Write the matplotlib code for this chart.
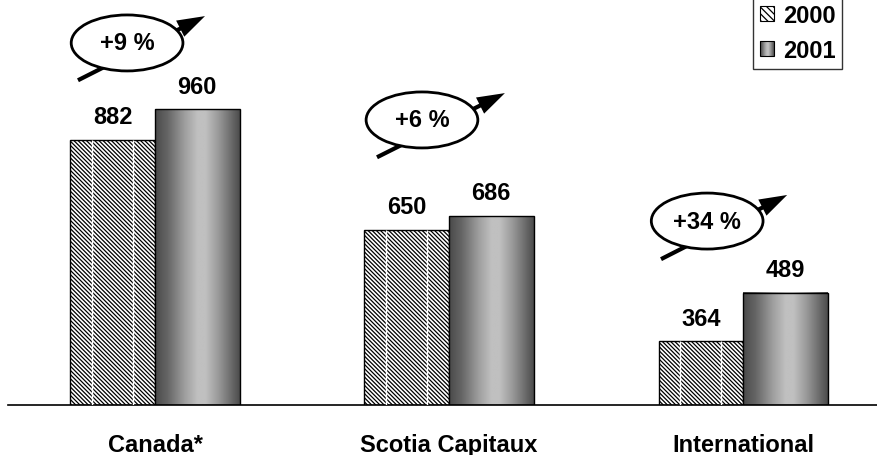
import numpy as np
import matplotlib
matplotlib.use("Agg")
import matplotlib.pyplot as plt
from matplotlib.patches import Ellipse, Rectangle
from matplotlib.legend_handler import HandlerPatch

plt.rcParams['font.family'] = ['Liberation Sans', 'DejaVu Sans']
plt.rcParams['font.weight'] = 'bold'
plt.rcParams['hatch.linewidth'] = 0.9

categories = ['Canada*', 'Scotia Capitaux', 'International']
v2000 = [882, 650, 364]
v2001 = [960, 686, 489]
growth = ['+9 %', '+6 %', '+34 %']

# position des bulles (coord. des données)
bulle_x = [-0.095, 0.908, 1.878]
bulle_y = [1131, 933, 673]
fleche_de = [(-0.262, 1035), (0.755, 837), (1.721, 575)]
fleche_a = [(0.170, 1200), (1.190, 1002), (2.150, 740)]

# profil du dégradé des barres 2001
grad_pos = [0, 0.15, 0.35, 0.5, 0.6, 0.75, 0.9, 1]
grad_gris = [0.29, 0.40, 0.62, 0.75, 0.75, 0.60, 0.42, 0.30]

YMIN, YMAX = 200, 1244
W = 0.2875
HACH = chr(92) * 8
FS = 17

fig = plt.figure(figsize=(8.78, 4.56), dpi=100)
ax = fig.add_axes([8 / 878, 50 / 456, 870 / 878, 406 / 456])

x = np.arange(len(categories))
gx = np.linspace(0, 1, 200)
gradient = np.interp(gx, grad_pos, grad_gris)[None, :]

for i in range(len(categories)):
    # 2000 : hachures
    ax.bar(x[i] - W / 2, v2000[i] - YMIN, W, bottom=YMIN, color='white',
           edgecolor='black', hatch=HACH, linewidth=1.0, zorder=2)
    x0 = x[i] - W
    for f in (0.25, 0.74):
        ax.vlines(x0 + f * W, YMIN, v2000[i], color='white', lw=1, zorder=3)
    # 2001 : dégradé
    ax.imshow(gradient, cmap='gray', vmin=0, vmax=1, aspect='auto',
              extent=(x[i], x[i] + W, YMIN, v2001[i]), zorder=2,
              interpolation='bilinear')
    ax.bar(x[i] + W / 2, v2001[i] - YMIN, W, bottom=YMIN, fill=False,
           edgecolor='black', linewidth=1.0, zorder=3)

    ax.text(x[i] - W / 2, v2000[i] + 30, str(v2000[i]), ha='center',
            va='bottom', fontsize=FS, fontweight='bold')
    ax.text(x[i] + W / 2, v2001[i] + 30, str(v2001[i]), ha='center',
            va='bottom', fontsize=FS, fontweight='bold')

    ax.annotate('', xy=fleche_a[i], xytext=fleche_de[i],
                arrowprops=dict(arrowstyle='simple,head_length=1.0,head_width=0.65,tail_width=0.15',
                                lw=0, facecolor='black', mutation_scale=20,
                                shrinkA=0, shrinkB=0), zorder=4)
    ax.add_patch(Ellipse((bulle_x[i], bulle_y[i]), 0.38, 144, facecolor='white',
                         edgecolor='black', lw=2.0, zorder=5))
    ax.text(bulle_x[i], bulle_y[i], growth[i], ha='center', va='center',
            fontsize=FS, fontweight='bold', zorder=6)

ax.set_xlim(-0.5, 2.459)
ax.set_ylim(YMIN, YMAX)
ax.set_xticks(x)
ax.set_xticklabels(categories, fontsize=FS, fontweight='bold')
ax.tick_params(axis='x', length=0, pad=20)
ax.set_yticks([])
for s in ['top', 'right', 'left']:
    ax.spines[s].set_visible(False)
ax.spines['bottom'].set_linewidth(1.2)


class HandlerDegrade(HandlerPatch):
    def create_artists(self, legend, orig_handle, xdescent, ydescent,
                       width, height, fontsize, trans):
        n = 14
        arts = []
        for k in range(n):
            g = np.interp((k + 0.5) / n, grad_pos, grad_gris)
            arts.append(Rectangle((-xdescent + k * width / n, -ydescent),
                                  width / n, height, facecolor=str(g),
                                  edgecolor='none', transform=trans))
        arts.append(Rectangle((-xdescent, -ydescent), width, height,
                              fill=False, edgecolor='black', lw=0.8,
                              transform=trans))
        return arts


h2000 = Rectangle((0, 0), 1, 1, facecolor='white', edgecolor='black',
                  hatch=chr(92) * 5, lw=0.8)
h2001 = Rectangle((0, 0), 1, 1)
leg = fig.legend([h2000, h2001], ['2000', '2001'],
                 handler_map={h2001: HandlerDegrade()},
                 loc='upper right', bbox_to_anchor=(842 / 878, 1 + 1.5 / 456),
                 fontsize=FS, frameon=True, fancybox=False,
                 handlelength=0.6, handleheight=0.6, handletextpad=0.36,
                 labelspacing=0.5, borderpad=0.28, borderaxespad=0)
leg.get_frame().set_edgecolor('black')
leg.get_frame().set_linewidth(1.0)
for t in leg.get_texts():
    t.set_fontweight('bold')

fig.savefig('out.png', dpi=100)
